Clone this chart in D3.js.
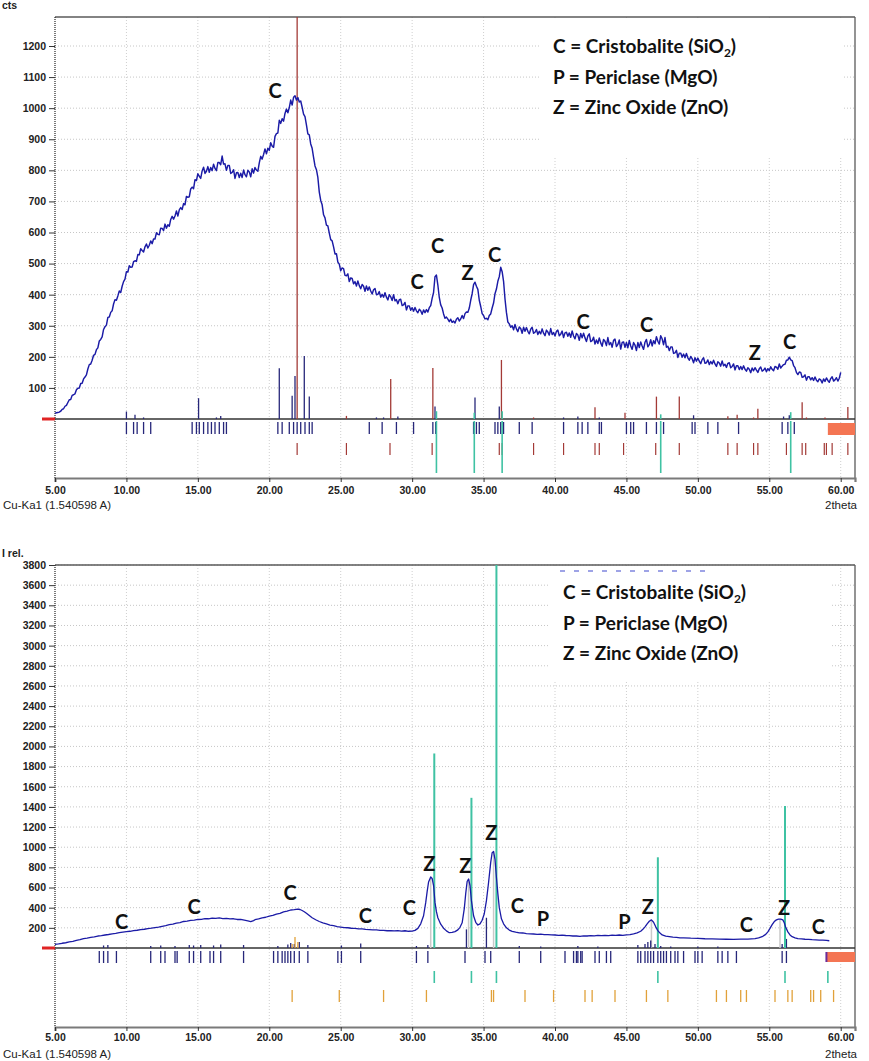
<!DOCTYPE html>
<html><head><meta charset="utf-8">
<script src="https://cdn.jsdelivr.net/npm/d3@7/dist/d3.min.js"></script>
<style>
body{margin:0;background:#fff}
svg{display:block}
text{font-family:"Liberation Sans",Arial,sans-serif}
.lab{font-family:Lato,"Open Sans",sans-serif;font-weight:700;fill:#111}
</style>
</head><body>
<svg id="c" width="869" height="1061"></svg>
<script>
// ---------------- DATA ----------------
const xTickValues = [5,10,15,20,25,30,35,40,45,50,55,60];
const topYTicks = [100,200,300,400,500,600,700,800,900,1000,1100,1200];
const botYTicks = [200,400,600,800,1000,1200,1400,1600,1800,2000,2200,2400,2600,2800,3000,3200,3400,3600,3800];

// top pattern: counts from 5.0 deg, step 0.1 deg
const topStart = 5.0, topStep = 0.1;
const topCounts = [
18,20,21,22,25,31,33,41,44,53,
62,63,76,78,81,94,99,100,114,115,
129,135,142,161,175,177,189,205,208,223,
229,251,256,264,288,297,302,327,328,343,
348,370,384,382,396,412,407,427,442,450,
474,473,493,488,489,506,509,507,529,528,
548,542,537,554,563,550,559,573,564,579,
579,599,594,593,614,613,606,627,614,625,
620,642,652,643,653,669,653,673,680,674,
693,689,716,713,715,740,746,741,770,767,
789,781,774,798,810,790,797,812,794,809,
799,820,806,799,825,825,818,846,820,821,
800,816,816,790,793,802,774,792,793,777,
791,777,801,786,779,800,795,779,805,791,
809,801,797,824,845,836,851,869,853,871,
864,889,878,874,909,918,920,961,951,966,
958,983,997,985,1002,1026,1010,1035,1040,1026,
1034,1020,1023,1003,981,973,946,917,914,885,
871,842,814,802,777,730,703,689,657,647,
624,621,598,577,573,554,531,532,505,498,
477,486,484,462,461,467,442,454,452,435,
442,428,444,429,419,433,427,411,428,414,
425,412,402,416,420,400,401,410,392,401,
392,406,392,383,400,393,381,400,380,384,
371,384,385,365,367,375,351,364,364,350,
358,347,359,348,342,353,348,337,351,342,
352,344,358,365,388,407,458,463,431,391,
367,357,338,324,328,321,313,321,311,315,
309,321,326,315,322,333,323,339,344,343,
357,382,403,432,440,427,417,382,362,339,
333,322,324,319,333,338,357,373,403,418,
443,458,488,474,443,386,343,312,306,295,
300,287,304,290,281,296,291,276,295,282,
294,282,274,289,295,276,279,288,272,282,
274,290,276,268,286,280,270,291,272,278,
267,282,286,268,273,283,262,277,279,266,
277,263,283,267,258,275,270,253,275,261,
276,261,249,267,274,249,252,263,241,254,
243,261,245,234,256,250,236,262,239,246,
231,253,257,233,240,254,225,246,248,231,
246,229,253,235,224,246,238,220,246,230,
248,235,224,247,256,232,239,255,235,252,
242,265,250,241,268,258,239,262,231,234,
220,232,232,211,213,221,198,212,212,199,
209,197,211,197,189,201,194,181,197,186,
196,186,178,191,197,179,181,190,175,185,
177,189,177,169,184,180,170,187,171,176,
166,179,181,165,169,177,158,171,171,159,
169,159,171,160,154,165,160,149,164,155,
165,157,150,162,167,154,157,164,152,162,
156,168,160,155,169,167,160,177,164,170,
175,176,189,190,199,190,188,172,165,150,
143,151,150,134,136,142,125,136,136,126,
133,124,135,125,120,129,126,116,129,121,
132,124,118,130,136,122,126,133,122,131,
150];

// bottom pattern: [2theta, I rel.]
const botPattern = [
[5.0,35],[5.25,40],[5.5,47],[5.75,52],[6.0,60],[6.25,66],[6.5,76],[6.75,83],[7.0,94],[7.25,98],[7.5,106],[7.75,110],
[8.0,119],[8.25,122],[8.5,129],[8.75,134],[9.0,141],[9.25,145],[9.5,152],[9.75,158],[10.0,163],[10.25,166],[10.5,173],
[10.75,176],[11.0,183],[11.25,186],[11.5,193],[11.75,197],[12.0,203],[12.25,207],[12.5,215],[12.75,221],[13.0,231],
[13.25,236],[13.5,247],[13.75,252],[14.0,263],[14.25,266],[14.5,275],[14.75,277],[15.0,283],[15.25,285],[15.5,291],
[15.75,290],[16.0,296],[16.25,293],[16.5,298],[16.75,292],[17.0,294],[17.25,288],[17.5,290],[17.75,283],[18.0,284],
[18.25,276],[18.5,268],[18.7,262],[18.9,272],[19.0,281],[19.25,288],[19.5,299],[19.75,305],[20.0,317],[20.25,323],
[20.5,336],[20.75,344],[21.0,359],[21.25,366],[21.5,377],[21.75,380],[22.0,386],[22.15,382],[22.3,372],[22.45,360],
[22.6,345],[22.8,322],[23.0,300],[23.25,280],[23.5,263],[23.75,250],[24.0,239],[24.25,228],[24.5,221],[24.75,212],
[25.0,208],[25.25,202],[25.5,201],[25.75,196],[26.0,195],[26.25,190],[26.5,189],[26.75,184],[27.0,183],[27.25,179],
[27.5,179],[27.75,175],[28.0,175],[28.25,171],[28.5,173],[28.75,169],[29.0,172],[29.25,168],[29.5,171],[29.75,166],
[30.0,168],[30.2,175],[30.4,195],[30.6,240],[30.8,320],[30.95,450],[31.05,560],[31.15,655],[31.3,705],[31.4,690],
[31.5,620],[31.6,450],[31.7,360],[31.8,300],[32.0,236],[32.2,196],[32.4,170],[32.6,152],[32.8,155],[33.0,162],
[33.2,180],[33.35,205],[33.5,250],[33.65,390],[33.75,540],[33.85,660],[33.95,685],[34.05,620],[34.15,470],[34.3,320],
[34.45,255],[34.6,228],[34.75,240],[34.9,275],[35.05,340],[35.2,470],[35.35,650],[35.5,850],[35.6,945],[35.7,957],
[35.8,880],[35.9,700],[36.0,540],[36.1,400],[36.25,290],[36.4,240],[36.6,200],[36.8,178],[37.0,165],[37.25,157],
[37.5,151],[37.75,149],[38.0,143],[38.25,141],[38.5,139],[38.75,136],[39.0,137],[39.25,133],[39.5,133],[39.75,130],
[40.0,129],[40.25,126],[40.5,128],[40.75,124],[41.0,123],[41.25,119],[41.5,119],[41.75,116],[42.0,121],[42.25,119],
[42.5,123],[42.75,121],[43.0,126],[43.25,122],[43.5,125],[43.75,123],[44.0,127],[44.25,125],[44.5,129],[44.75,126],
[45.0,131],[45.25,133],[45.5,141],[45.75,150],[46.0,166],[46.15,185],[46.3,210],[46.45,240],[46.6,265],[46.75,279],
[46.9,255],[47.05,210],[47.2,172],[47.35,148],[47.5,130],[47.75,118],[48.0,113],[48.25,107],[48.5,105],[48.75,101],
[49.0,101],[49.5,97],[50.0,95],[50.5,92],[51.0,91],[51.5,88],[52.0,87],[52.5,85],[53.0,89],[53.5,88],[54.0,93],
[54.25,100],[54.5,112],[54.75,135],[54.9,160],[55.05,195],[55.2,232],[55.35,262],[55.5,279],[55.65,286],[55.8,287],
[55.95,279],[56.05,250],[56.15,205],[56.3,160],[56.45,130],[56.6,112],[56.8,100],[57.0,93],[57.25,90],[57.5,87],
[57.75,86],[58.0,83],[58.25,81],[58.5,79],[58.75,78],[59.0,76],[59.2,72]];

// reference stick patterns, top panel ([2theta, height in cts])
const topNavyPeaks = [[10.0,24],[10.6,14],[11.2,5],[15.05,67],[16.3,5],[16.6,10],[20.7,163],[21.6,75],[21.8,138],[22.45,203],[22.8,72],[27.5,5],[28.0,5],[29.0,8],[31.6,40],[34.4,69],[36.1,40],[40.6,5],[41.6,8],[43.1,5],[49.7,12],[56.0,8],[56.4,12]];
const topRedPeaks = [[21.95,1300],[25.4,10],[28.5,129],[31.45,164],[36.25,190],[38.5,5],[42.8,38],[44.9,20],[47.1,72],[48.7,72],[52.1,9],[52.75,14],[53.9,5],[54.2,33],[57.3,54],[57.6,5],[58.9,5],[60.5,39]];
const topTealPeaks = [[31.7,25],[34.35,20],[36.3,25],[47.4,15],[56.5,22]];
const topNavyRow = [10.0,10.5,10.75,11.2,11.7,14.6,14.9,15.1,15.4,15.7,15.95,16.2,16.5,16.8,17.0,20.6,20.9,21.4,21.7,21.95,22.2,22.5,22.8,23.0,27.0,27.9,28.9,30.1,31.45,31.65,34.3,34.5,34.7,35.8,36.0,36.2,36.4,37.5,38.4,40.6,41.6,41.9,42.3,43.1,43.25,45.0,45.3,45.5,46.4,47.1,47.6,49.6,49.8,50.7,51.4,52.85,55.9,56.3,56.75];
const topRedRow = [21.95,25.4,28.45,31.4,36.1,36.3,38.5,40.6,42.8,43.1,44.8,47.05,48.7,52.1,52.75,53.9,54.2,56.2,57.3,57.55,58.85,59.0,59.4,60.5];
const topTealRow = [31.7,34.35,36.3,47.4,56.5];

// reference stick patterns, bottom panel
const botNavyPeaks = [[8.4,25],[8.7,30],[11.7,20],[12.4,25],[13.4,20],[14.4,30],[14.7,25],[15.2,30],[16.1,25],[16.6,35],[18.2,30],[20.6,20],[21.3,35],[21.5,50],[21.75,40],[22.1,60],[22.7,30],[25.05,25],[26.4,45],[30.3,20],[31.1,30],[33.8,185],[35.2,300],[37.5,20],[39.0,15],[41.6,20],[43.0,15],[45.8,30],[46.3,40],[46.5,60],[46.7,75],[47.0,40],[47.4,20],[48.1,15],[50.0,15],[51.4,15],[55.9,40],[56.2,90]];
const botTealPeaks = [[31.55,1930],[34.15,1490],[35.9,3800],[47.2,900],[56.1,1410]];
const botOrangePeaks = [[21.6,40],[21.8,110],[22.0,60]];
const botNavyRow = [8.1,8.4,8.7,9.3,11.7,12.4,12.7,13.4,13.55,14.4,14.7,15.2,15.85,16.1,16.6,18.2,20.3,20.6,20.9,21.1,21.3,21.5,21.75,22.1,22.7,24.8,25.05,26.4,30.3,31.1,33.7,35.1,35.5,37.5,39.0,40.7,41.3,41.5,41.6,41.8,41.9,42.8,43.1,43.6,43.9,45.8,46.0,46.3,46.5,46.7,46.9,47.2,47.4,47.6,47.8,48.1,48.4,48.6,49.0,49.8,50.0,50.3,51.4,51.7,52.1,52.7,55.9,56.2];
const botTealRow = [31.55,34.15,35.9,47.2,56.1,59.1];
const botOrangeRow = [21.6,24.9,28.0,31.0,35.55,35.7,37.9,39.9,42.1,42.6,44.2,46.4,47.9,51.3,52.0,53.0,53.4,55.4,56.3,56.6,57.9,58.1,58.6,59.5];
const botPeakMarks = [31.3,33.95,35.7,46.75,55.75];

// phase labels at [2theta, intensity]
const topLabels = [["C",20.4,1055],["C",30.34,441],["C",31.78,557],["Z",33.88,470],["C",35.77,528],["C",41.96,312],["C",46.41,302],["Z",53.98,212],["C",56.42,248]];
const botLabels = [["C",9.67,261],["C",14.73,410],["C",21.45,546],["C",26.73,317],["C",29.81,397],["Z",31.21,833],["Z",33.73,818],["Z",35.54,1141],["C",37.36,420],["P",39.15,288],["P",44.86,261],["Z",46.49,410],["C",53.40,228],["Z",56.03,397],["C",58.44,211]];
const legendLines = [["C = Cristobalite (SiO","2",")"],["P = Periclase (MgO)"],["Z = Zinc Oxide (ZnO)"]];

// ---------------- DRAWING ----------------
const svg = d3.select("#c");
const x = d3.scaleLinear().domain([5,61]).range([55,855]);
const navy = "#27277a", red = "#a33a36", teal = "#3fc2a3", orange = "#e1a13a", curveCol = "#1b1ba6";

function panel(c) {
  const g = svg.append("g");
  const y = d3.scaleLinear().domain([0, c.yRef]).range([c.base, c.yRefPx]);
  // grid
  g.append("g").selectAll("line").data(c.yTicks).enter().append("line")
    .attr("x1",55).attr("x2",855).attr("y1",d=>y(d)).attr("y2",d=>y(d))
    .attr("stroke","#c6c6c6").attr("stroke-dasharray","1,2");
  g.append("g").selectAll("line").data(xTickValues.filter(d=>d>5)).enter().append("line")
    .attr("x1",d=>x(d)).attr("x2",d=>x(d)).attr("y1",c.top).attr("y2",c.axisY)
    .attr("stroke","#cfcfcf").attr("stroke-dasharray","1,2");
  // legend background
  g.append("rect").attr("x",c.lb[0]).attr("y",c.lb[1]).attr("width",c.lb[2]).attr("height",c.lb[3]).attr("fill","#fff");
  // frame
  g.append("line").attr("x1",55).attr("x2",855).attr("y1",c.top).attr("y2",c.top).attr("stroke","#5a5a5a").attr("stroke-width",1.5);
  g.append("line").attr("x1",855).attr("x2",855).attr("y1",c.top).attr("y2",c.axisY).attr("stroke","#5a5a5a").attr("stroke-width",1.3);
  g.append("line").attr("x1",55).attr("x2",55).attr("y1",c.top).attr("y2",c.axisY).attr("stroke","#222").attr("stroke-dasharray","1,1").attr("stroke-width",1.2);
  // y axis
  const ya = g.append("g").attr("transform","translate(55,0)")
    .call(d3.axisLeft(y).tickValues(c.yTicks).tickSize(6).tickPadding(3).tickFormat(d3.format("d")));
  ya.select(".domain").remove();
  ya.selectAll("line").attr("stroke","#333");
  ya.selectAll("text").attr("font-size","10.5px").attr("font-weight","bold").attr("fill","#222").attr("font-family","Liberation Sans, Arial, sans-serif");
  // x axis
  const xa = g.append("g").attr("transform",`translate(0,${c.axisY})`)
    .call(d3.axisBottom(x).tickValues(xTickValues).tickSize(4).tickPadding(c.pad).tickFormat(d=>d.toFixed(2)));
  xa.select(".domain").attr("stroke","#7a7a7a").attr("stroke-width",2.2);
  xa.selectAll("line").attr("stroke","#333");
  xa.selectAll("text").attr("font-size","10.5px").attr("font-weight","bold").attr("fill","#222").attr("font-family","Liberation Sans, Arial, sans-serif");
  g.append("text").attr("x",3).attr("y",c.axisY+31).attr("font-size","11.5px").attr("fill","#222").text("Cu-Ka1 (1.540598 A)");
  g.append("text").attr("x",857).attr("y",c.axisY+31).attr("font-size","11.5px").attr("fill","#222").attr("text-anchor","end").text("2theta");
  g.append("text").attr("x",2).attr("y",c.top-8).attr("font-size","10.5px").attr("font-weight","bold").attr("fill","#222").text(c.unit);
  // baseline and red marker
  g.append("line").attr("x1",55).attr("x2",855).attr("y1",c.base).attr("y2",c.base).attr("stroke","#333").attr("stroke-width",1.3);
  g.append("line").attr("x1",42).attr("x2",55).attr("y1",c.base).attr("y2",c.base).attr("stroke","#e02424").attr("stroke-width",3);
  // orange box
  g.append("rect").attr("x",x(c.boxFrom)).attr("y",c.rows[0][0]).attr("width",855-x(c.boxFrom)).attr("height",c.rows[0][1]-c.rows[0][0])
    .attr("fill","#f47553");
  // sticks above baseline
  const sticks = (data,col,w) => g.append("g").selectAll("line").data(data).enter().append("line")
    .attr("x1",d=>x(d[0])).attr("x2",d=>x(d[0])).attr("y1",c.base).attr("y2",d=>Math.max(c.top,y(d[1])))
    .attr("stroke",col).attr("stroke-width",w);
  const row = (data,col,y1,y2,w) => g.append("g").selectAll("line").data(data).enter().append("line")
    .attr("x1",d=>x(d)).attr("x2",d=>x(d)).attr("y1",y1).attr("y2",y2).attr("stroke",col).attr("stroke-width",w);
  c.draw(g, y, sticks, row);
  // curve
  g.append("path").datum(c.curve).attr("fill","none").attr("stroke",curveCol).attr("stroke-width",c.lw)
    .attr("stroke-linejoin","round")
    .attr("d", d3.line().x(d=>x(d[0])).y(d=>y(d[1])));
  // phase labels
  g.append("g").selectAll("text").data(c.labels).enter().append("text").attr("class","lab")
    .attr("x",d=>x(d[1])).attr("y",d=>y(d[2])).attr("dy","0.36em").attr("text-anchor","middle")
    .attr("font-size","20px").text(d=>d[0]);
  // legend
  const lg = g.append("g");
  legendLines.forEach((l,i)=>{
    const t = lg.append("text").attr("class","lab").attr("x",c.legX).attr("y",c.legY+i*30.7).attr("font-size","19px");
    t.append("tspan").text(l[0]);
    if (l.length>1){
      t.append("tspan").attr("font-size","12px").attr("dy","4").text(l[1]);
      t.append("tspan").attr("dy","-4").text(l[2]);
    }
  });
  return g;
}

// top panel
const topCurve = topCounts.map((v,i)=>[topStart+i*topStep, v]);
panel({
  top:17, base:419, axisY:478, yRef:1200, yRefPx:46, yTicks:topYTicks, pad:5, unit:"cts", lw:1.45,
  lb:[539,19,304,137], legX:553, legY:53, boxFrom:59.1, rows:[[423,435]],
  curve: topCurve, labels: topLabels,
  draw:(g,y,sticks,row)=>{
    row(topNavyRow, navy, 422, 434, 1.3);
    row(topRedRow, red, 443, 455, 1.2);
    row(topTealRow, teal, 421, 473, 1.6);
    sticks(topNavyPeaks, navy, 1.3);
    sticks(topRedPeaks, red, 1.3);
    sticks(topTealPeaks, teal, 1.6);
  }
});

// bottom panel
panel({
  top:565, base:948, axisY:1027, yRef:3800, yRefPx:565, yTicks:botYTicks, pad:3, unit:"I rel.", lw:1.3,
  lb:[548,568,282,112], legX:563, legY:599, boxFrom:59.0, rows:[[952,962]],
  curve: botPattern, labels: botLabels,
  draw:(g,y,sticks,row)=>{
    g.append("line").attr("x1",560).attr("x2",705).attr("y1",571).attr("y2",571).attr("stroke","#9ea3e6").attr("stroke-width",2).attr("stroke-dasharray","5,9");
    row(botNavyRow, navy, 951, 963, 1.3);
    row(botTealRow, teal, 971, 983, 1.6);
    row(botOrangeRow, orange, 990, 1002, 1.3);
    g.append("line").attr("x1",x(59.0)).attr("x2",x(59.0)).attr("y1",952).attr("y2",962).attr("stroke","#6a2c9a").attr("stroke-width",2);
    const interp = v => { for (let i=1;i<botPattern.length;i++){ const a=botPattern[i-1], b=botPattern[i]; if (v<=b[0]) return a[1]+(b[1]-a[1])*(v-a[0])/(b[0]-a[0]); } return 0; };
    g.append("g").selectAll("line").data(botPeakMarks).enter().append("line")
      .attr("x1",d=>x(d)).attr("x2",d=>x(d)).attr("y1",948).attr("y2",d=>y(interp(d)))
      .attr("stroke","#c9c9c9").attr("stroke-width",1.5);
    sticks(botNavyPeaks, navy, 1.3);
    sticks(botOrangePeaks, orange, 1.3);
    sticks(botTealPeaks, teal, 2);
  }
});
</script>
</body></html>
